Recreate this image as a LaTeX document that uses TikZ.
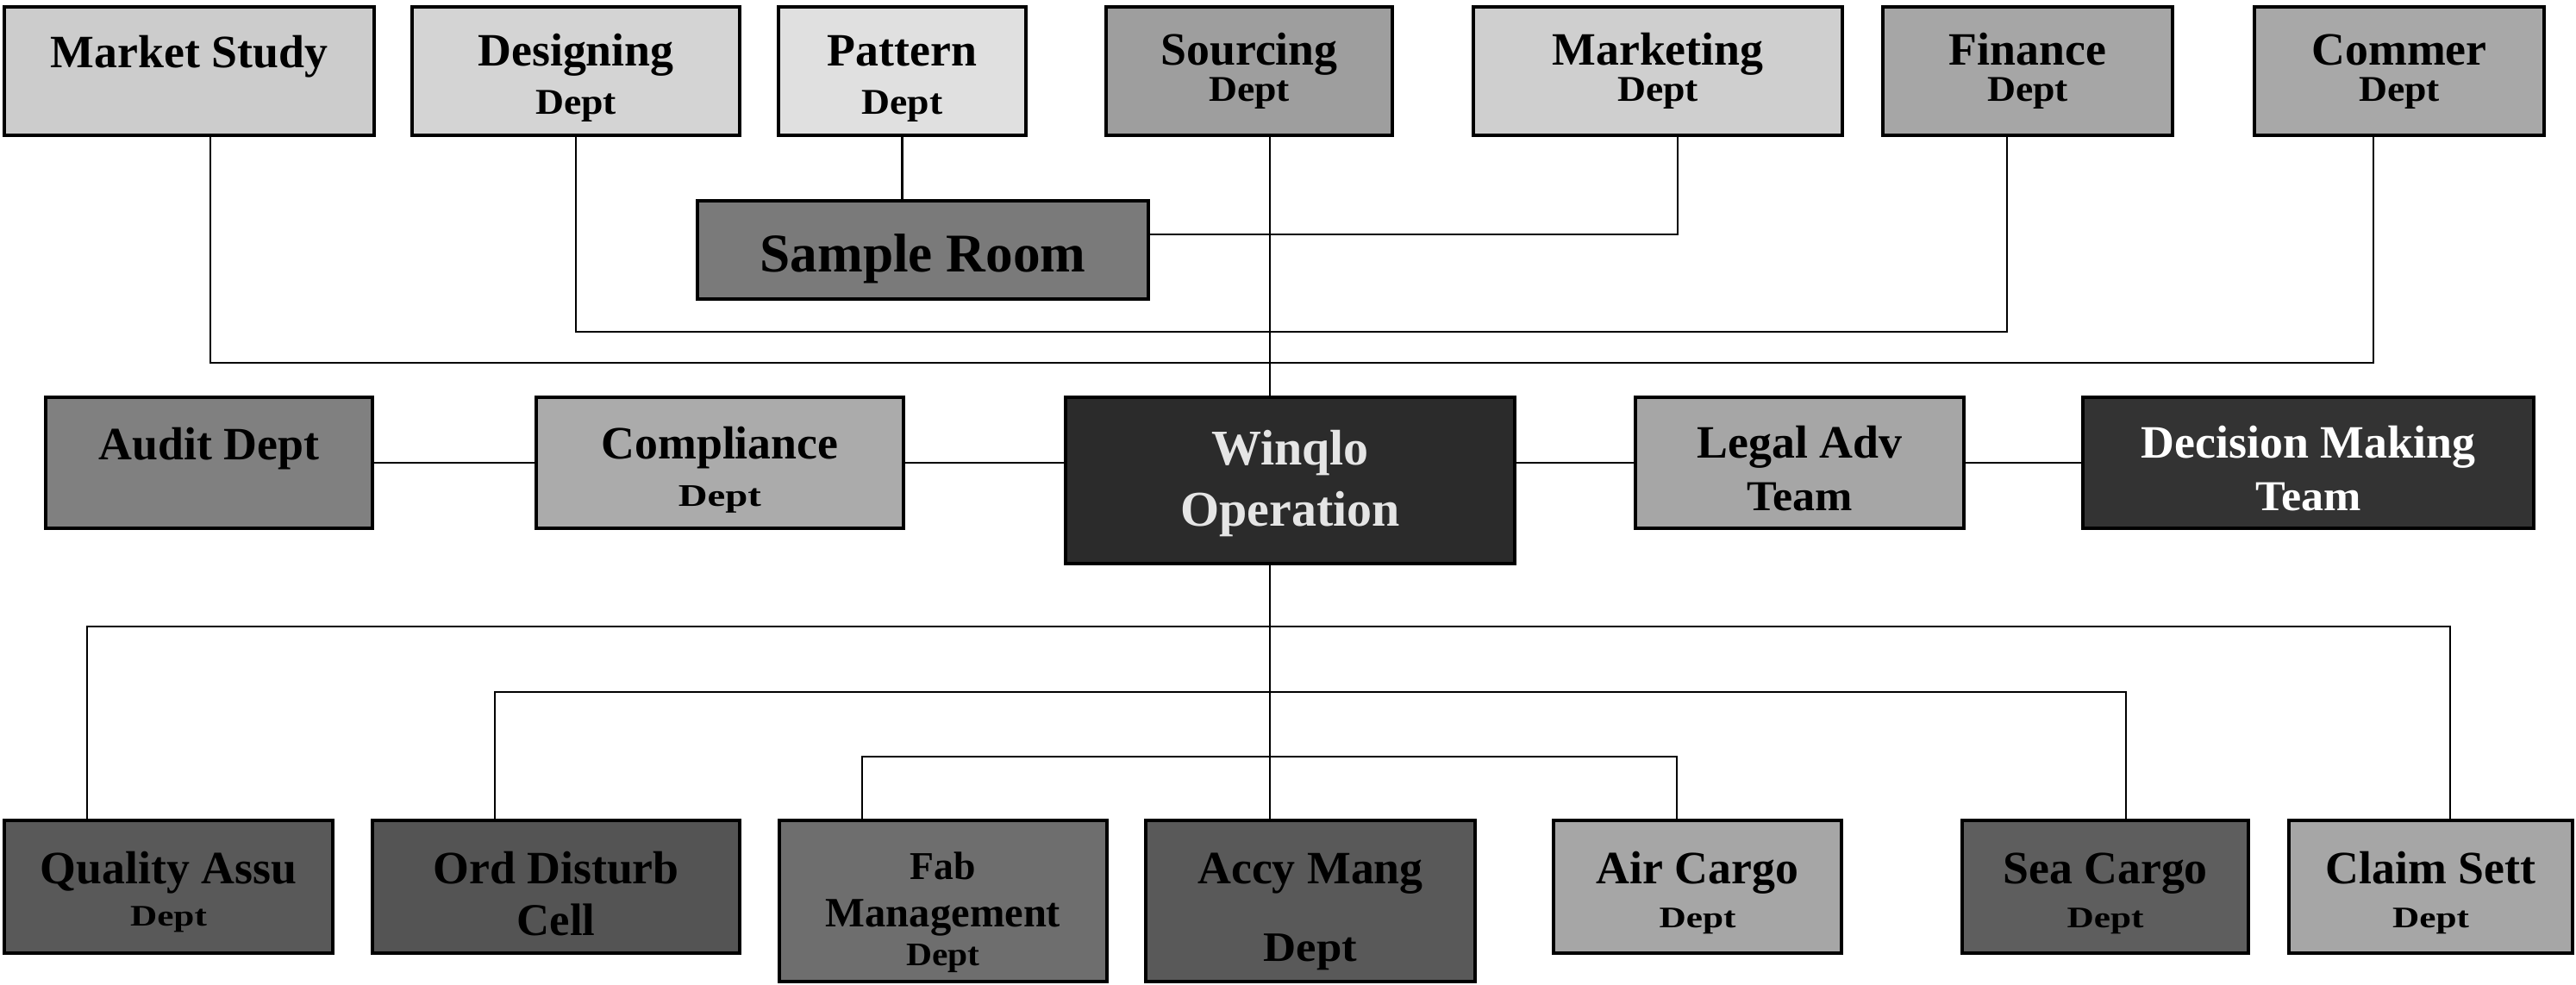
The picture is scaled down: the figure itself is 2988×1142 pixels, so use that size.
\documentclass[tikz,border=0pt]{standalone}
\usepackage{fontspec}
\setmainfont{Liberation Serif}
\usepackage{graphicx}
\usetikzlibrary{fit,calc}
\definecolor{cMS}{gray}{0.80}
\definecolor{cDES}{gray}{0.83}
\definecolor{cPAT}{gray}{0.88}
\definecolor{cSRC}{gray}{0.62}
\definecolor{cMKT}{gray}{0.81}
\definecolor{cFIN}{gray}{0.65}
\definecolor{cCOM}{gray}{0.66}
\definecolor{cSAM}{gray}{0.48}
\definecolor{cAUD}{gray}{0.50}
\definecolor{cCMP}{gray}{0.67}
\definecolor{cWIN}{gray}{0.17}
\definecolor{cLEG}{gray}{0.65}
\definecolor{cDEC}{gray}{0.20}
\definecolor{cQA}{gray}{0.35}
\definecolor{cORD}{gray}{0.33}
\definecolor{cFAB}{gray}{0.43}
\definecolor{cACC}{gray}{0.35}
\definecolor{cAIR}{gray}{0.65}
\definecolor{cSEA}{gray}{0.37}
\definecolor{cCLM}{gray}{0.65}
\definecolor{cLT}{gray}{0.90}
\newcommand\fs[1]{\fontsize{#1}{#1}\selectfont\bfseries}
\newcommand\ys[2]{\scalebox{1}[#1]{#2}}
\tikzset{
  box/.style={draw=black, line width=1pt, inner sep=0pt, outer sep=0pt},
  txt/.style={inner sep=0pt, outer sep=0pt, anchor=base},
  conn/.style={draw=black, line width=0.8pt},
}
\begin{document}
\begin{tikzpicture}[x=0.01cm,y=-0.01cm]
\useasboundingbox (0,0) rectangle (2988,1142);
% ---------- top row ----------
\node[box, fill=cMS,  fit={(5,8) (434,157)}]     (ms)  {};
\node[box, fill=cDES, fit={(478,8) (858,157)}]   (des) {};
\node[box, fill=cPAT, fit={(903,8) (1190,157)}]  (pat) {};
\node[box, fill=cSRC, fit={(1283,8) (1615,157)}] (src) {};
\node[box, fill=cMKT, fit={(1709,8) (2137,157)}] (mkt) {};
\node[box, fill=cFIN, fit={(2184,8) (2520,157)}] (fin) {};
\node[box, fill=cCOM, fit={(2615,8) (2951,157)}] (com) {};
\node[box, fill=cSAM, fit={(809,233) (1332,347)}] (sam) {};
% ---------- middle row ----------
\node[box, fill=cAUD, fit={(53,461) (432,613)}]    (aud) {};
\node[box, fill=cCMP, fit={(622,461) (1048,613)}]  (cmp) {};
\node[box, fill=cWIN, fit={(1236,461) (1757,654)}] (win) {};
\node[box, fill=cLEG, fit={(1897,461) (2278,613)}] (leg) {};
\node[box, fill=cDEC, fit={(2416,461) (2939,613)}] (dec) {};
% ---------- bottom row ----------
\node[box, fill=cQA,  fit={(5,952) (386,1106)}]     (qa)  {};
\node[box, fill=cORD, fit={(432,952) (858,1106)}]   (ord) {};
\node[box, fill=cFAB, fit={(904,952) (1284,1139)}]  (fab) {};
\node[box, fill=cACC, fit={(1329,952) (1711,1139)}] (acc) {};
\node[box, fill=cAIR, fit={(1802,952) (2136,1106)}] (air) {};
\node[box, fill=cSEA, fit={(2276,952) (2608,1106)}] (sea) {};
\node[box, fill=cCLM, fit={(2655,952) (2984,1106)}] (clm) {};
% ---------- texts ----------
\node[txt, font={\fs{15.3}}] (t-ms)  at (219.5,78) {Market Study};
\node[txt, font={\fs{15.3}}] (t-des1) at (668,76) {Designing};
\node[txt, font={\fs{13}}]   (t-des2) at (668,132) {\ys{0.92}{Dept}};
\node[txt, font={\fs{15.3}}] (t-pat1) at (1046.5,76) {Pattern};
\node[txt, font={\fs{13}}]   (t-pat2) at (1046.5,132) {\ys{0.92}{Dept}};
\node[txt, font={\fs{15.3}}] (t-src1) at (1449,75) {Sourcing};
\node[txt, font={\fs{13}}]   (t-src2) at (1449,117) {\ys{0.92}{Dept}};
\node[txt, font={\fs{15.3}}] (t-mkt1) at (1923,75) {Marketing};
\node[txt, font={\fs{13}}]   (t-mkt2) at (1923,117) {\ys{0.92}{Dept}};
\node[txt, font={\fs{15.3}}] (t-fin1) at (2352,75) {Finance};
\node[txt, font={\fs{13}}]   (t-fin2) at (2352,117) {\ys{0.92}{Dept}};
\node[txt, font={\fs{15.3}}] (t-com1) at (2783,75) {Commer};
\node[txt, font={\fs{13}}]   (t-com2) at (2783,117) {\ys{0.92}{Dept}};
\node[txt, font={\fs{18}}]   (t-sam) at (1070.5,315) {Sample Room};
\node[txt, font={\fs{15.3}}] (t-aud) at (242.5,533) {Audit Dept};
\node[txt, font={\fs{15.3}}] (t-cmp1) at (835,532) {Compliance};
\node[txt, font={\fs{13.3}}] (t-cmp2) at (835,587) {\ys{0.78}{Dept}};
\node[txt, font={\fs{16.5}}, text=cLT] (t-win1) at (1496.5,539) {Winqlo};
\node[txt, font={\fs{16.5}}, text=cLT] (t-win2) at (1496.5,610) {Operation};
\node[txt, font={\fs{15.3}}] (t-leg1) at (2087.5,531) {Legal Adv};
\node[txt, font={\fs{14.8}}] (t-leg2) at (2087.5,592) {\ys{0.95}{Team}};
\node[txt, font={\fs{15.3}}, text=white] (t-dec1) at (2677.5,531) {Decision Making};
\node[txt, font={\fs{14.8}}, text=white] (t-dec2) at (2677.5,592) {\ys{0.95}{Team}};
\node[txt, font={\fs{15.3}}] (t-qa1) at (195.5,1025) {Quality Assu};
\node[txt, font={\fs{12.3}}] (t-qa2) at (195.5,1074) {\ys{0.8}{Dept}};
\node[txt, font={\fs{15.3}}] (t-ord1) at (645,1025) {Ord Disturb};
\node[txt, font={\fs{15}}]   (t-ord2) at (645,1085) {Cell};
\node[txt, font={\fs{13}}]   (t-fab1) at (1094,1020) {Fab};
\node[txt, font={\fs{13.8}}] (t-fab2) at (1094,1075) {Management};
\node[txt, font={\fs{11.8}}] (t-fab3) at (1094,1120) {\ys{0.92}{Dept}};
\node[txt, font={\fs{15.3}}] (t-acc1) at (1520,1025) {Accy Mang};
\node[txt, font={\fs{15}}]   (t-acc2) at (1520,1115) {\ys{0.92}{Dept}};
\node[txt, font={\fs{15.3}}] (t-air1) at (1969,1025) {Air Cargo};
\node[txt, font={\fs{12.3}}] (t-air2) at (1969,1076) {\ys{0.8}{Dept}};
\node[txt, font={\fs{15.3}}] (t-sea1) at (2442,1025) {Sea Cargo};
\node[txt, font={\fs{12.3}}] (t-sea2) at (2442,1076) {\ys{0.8}{Dept}};
\node[txt, font={\fs{15.3}}] (t-clm1) at (2819.5,1025) {Claim Sett};
\node[txt, font={\fs{12.3}}] (t-clm2) at (2819.5,1076) {\ys{0.8}{Dept}};
% ---------- bus levels and connection points ----------
\coordinate (busS)  at (0,272);
\coordinate (busT2) at (0,385);
\coordinate (busT1) at (0,421);
\coordinate (busB1) at (0,727);
\coordinate (busB2) at (0,803);
\coordinate (busB3) at (0,878);
\coordinate (msP)  at ([xshift=0.245cm]ms.south);
\coordinate (comP) at ([xshift=-0.30cm]com.south);
\coordinate (finP) at ([xshift=-0.24cm]fin.south);
\coordinate (mktP) at ([xshift=0.23cm]mkt.south);
\coordinate (srcP) at ([xshift=0.24cm]src.south);
\coordinate (qaP)  at ([xshift=-0.945cm]qa.north);
\coordinate (clmP) at ([xshift=0.225cm]clm.north);
\coordinate (ordP) at ([xshift=-0.71cm]ord.north);
\coordinate (seaP) at ([xshift=0.24cm]sea.north);
\coordinate (fabP) at ([xshift=-0.94cm]fab.north);
\coordinate (airP) at ([xshift=-0.24cm]air.north);
% ---------- connectors ----------
\draw[conn] (msP) -- (msP |- busT1) -- (comP |- busT1) -- (comP);
\draw[conn] (des.south) |- (finP |- busT2) -- (finP);
\draw[conn] (pat.south) -- (pat.south |- sam.north);
\draw[conn] (sam.east |- busS) -| (mktP);
\draw[conn] (srcP) -- (srcP |- win.north);
\draw[conn] (aud.east) -- (aud.east -| cmp.west);
\draw[conn] (cmp.east) -- (cmp.east -| win.west);
\draw[conn] (leg.west -| win.east) -- (leg.west);
\draw[conn] (leg.east) -- (leg.east -| dec.west);
\draw[conn] (srcP |- win.south) -- (srcP |- acc.north);
\draw[conn] (qaP) |- (clmP |- busB1) -- (clmP);
\draw[conn] (ordP) |- (seaP |- busB2) -- (seaP);
\draw[conn] (fabP) |- (airP |- busB3) -- (airP);
\end{tikzpicture}
\end{document}
